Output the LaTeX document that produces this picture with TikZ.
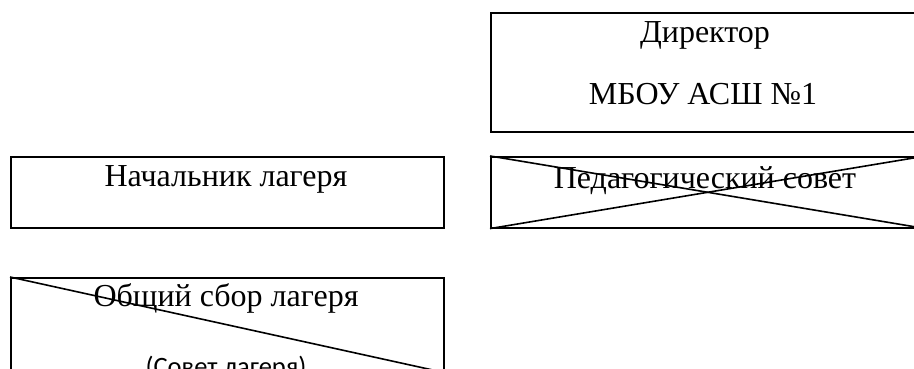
\documentclass[tikz,border=0pt]{standalone}
\usepackage{fontspec}
\setmainfont{Liberation Serif}
\newfontfamily\calibri{Carlito}
\usetikzlibrary{positioning}

\begin{document}
\begin{tikzpicture}[x=1pt,y=-1pt,
    box/.style={draw, line width=1.6pt, rectangle, inner sep=0pt, anchor=north west},
    lbl/.style={anchor=base, inner sep=0pt, font=\fontsize{32}{38}\selectfont}]

\clip (0,0) rectangle (914,369);
\fill[white] (0,0) rectangle (914,369);

% boxes
\node[box, minimum width=434pt, minimum height=119pt] (dir)  at (490,12)  {};
\node[box, minimum width=433pt, minimum height=71pt]  (nach) at (10,156)  {};
\node[box, minimum width=434pt, minimum height=71pt]  (ped)  at (490,156) {};
\node[box, minimum width=433pt, minimum height=94pt]  (sbor) at (10,277)  {};

% crossed out
\draw[line width=1.6pt] (ped.north west) -- (ped.south east);
\draw[line width=1.6pt] (ped.south west) -- (ped.north east);
\draw[line width=1.6pt] (sbor.north west) -- (sbor.south east);

% texts
\node[lbl] (dir1)  at (705,43)  {Директор};
\node[lbl] (dir2)  at (703,105) {МБОУ АСШ №1};
\node[lbl] (nach1) at (226,186) {Начальник лагеря};
\node[lbl] (ped1)  at (705,188) {Педагогический совет};
\node[lbl] (sbor1) at (226,306) {Общий сбор лагеря};
\node[lbl, font=\calibri\fontsize{26.5}{31}\selectfont] (sbor2) at (226,375) {(Совет лагеря)};

\end{tikzpicture}
\end{document}
